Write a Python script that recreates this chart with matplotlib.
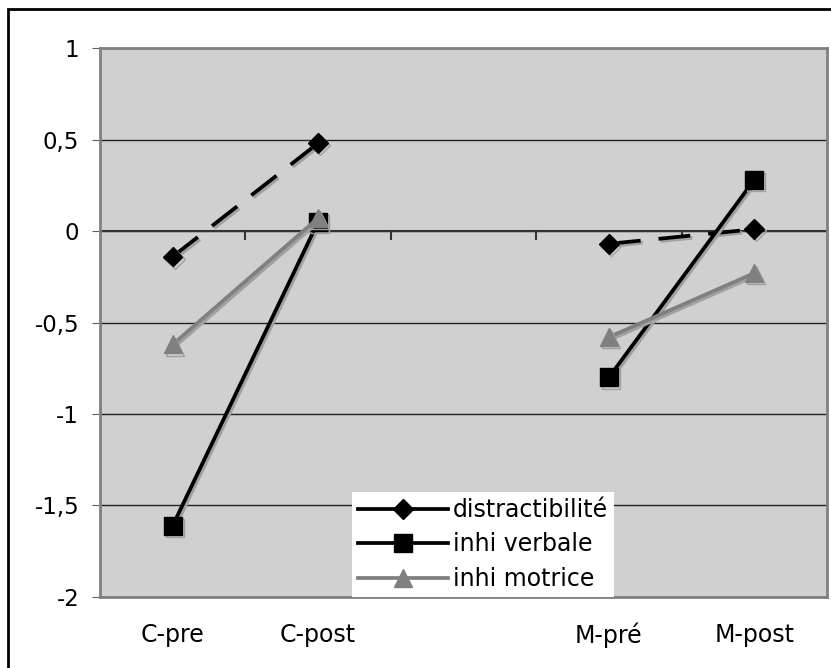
import matplotlib.pyplot as plt
import matplotlib.patheffects as pe
from matplotlib.patches import Rectangle
from matplotlib.lines import Line2D
import numpy as np

categories = ["C-pre", "C-post", "", "M-pré", "M-post"]
distractibilite = [-0.14, 0.48, None, -0.07, 0.01]
inhi_verbale = [-1.61, 0.05, None, -0.80, 0.28]
inhi_motrice = [-0.62, 0.07, None, -0.58, -0.23]
yticks = [1, 0.5, 0, -0.5, -1, -1.5, -2]
ytick_labels = ["1", "0,5", "0", "-0,5", "-1", "-1,5", "-2"]

plt.rcParams['font.family'] = ['DejaVu Sans']
FS = 17

fig = plt.figure(figsize=(8.31, 6.68), dpi=100)
ax = fig.add_axes([0.1203, 0.1063, 0.8749, 0.8218])
ax.set_facecolor('#d0d0d0')

shadow = [pe.SimpleLineShadow(offset=(1.5, -1.5), shadow_color='#a0a0a0', alpha=1.0), pe.Normal()]


def seg(vals):
    xs = [i for i, v in enumerate(vals) if v is not None]
    ys = [v for v in vals if v is not None]
    return xs, ys


# each group (C, M) is its own two-point segment
series = [
    (distractibilite, dict(color='black', ls=(0, (8.5, 4.8)), marker='D', ms=10)),
    (inhi_verbale, dict(color='black', ls='-', marker='s', ms=13)),
    (inhi_motrice, dict(color='#808080', ls='-', marker='^', ms=13)),
]
for vals, kw in series:
    xs, ys = seg(vals)
    ax.plot(xs[:2], ys[:2], lw=2.7, path_effects=shadow, zorder=3, **kw)
    ax.plot(xs[2:], ys[2:], lw=2.7, path_effects=shadow, zorder=3, **kw)

ax.set_xlim(-0.5, len(categories) - 0.5)
ax.set_ylim(-2, 1)
ax.set_yticks(yticks)
ax.set_yticklabels(ytick_labels, fontsize=16.5)
ax.yaxis.grid(True, color='#222222', lw=1)
ax.set_axisbelow(True)
ax.tick_params(axis='y', length=6, color='#606060', pad=9)

# category labels under the plot, ticks on the zero line between categories
ax.set_xticks([])
for i, c in enumerate(categories):
    ax.text(i, -2.21, c, ha='center', va='center', fontsize=FS)
ax.plot([-0.5, len(categories) - 0.5], [0, 0], color='#333333', lw=1.5, zorder=2)
for b in np.arange(0.5, len(categories) - 0.5, 1):
    ax.plot([b, b], [0, -0.045], color='#333333', lw=1.5, zorder=2, clip_on=False)

for s in ax.spines.values():
    s.set_color('#808080')
    s.set_linewidth(2)

handles = [
    Line2D([], [], color='black', lw=2.7, marker='D', ms=10),
    Line2D([], [], color='black', lw=2.7, marker='s', ms=13),
    Line2D([], [], color='#808080', lw=2.7, marker='^', ms=13),
]
leg = ax.legend(handles, ["distractibilité", "inhi verbale", "inhi motrice"],
                loc='lower left', bbox_to_anchor=(0.347, 0.0), fontsize=FS,
                frameon=True, fancybox=False, framealpha=1, edgecolor='white',
                handlelength=3.8, handletextpad=0.2, borderpad=0.25,
                labelspacing=0.45, borderaxespad=0)
leg.get_frame().set_linewidth(0)
leg.set_zorder(5)

fig.patches.append(Rectangle((8 / 831, -0.1), 1.2, 1 - 9 / 668 + 0.1,
                             transform=fig.transFigure, fill=False,
                             edgecolor='black', lw=2))

fig.savefig('out.png', dpi=100)
